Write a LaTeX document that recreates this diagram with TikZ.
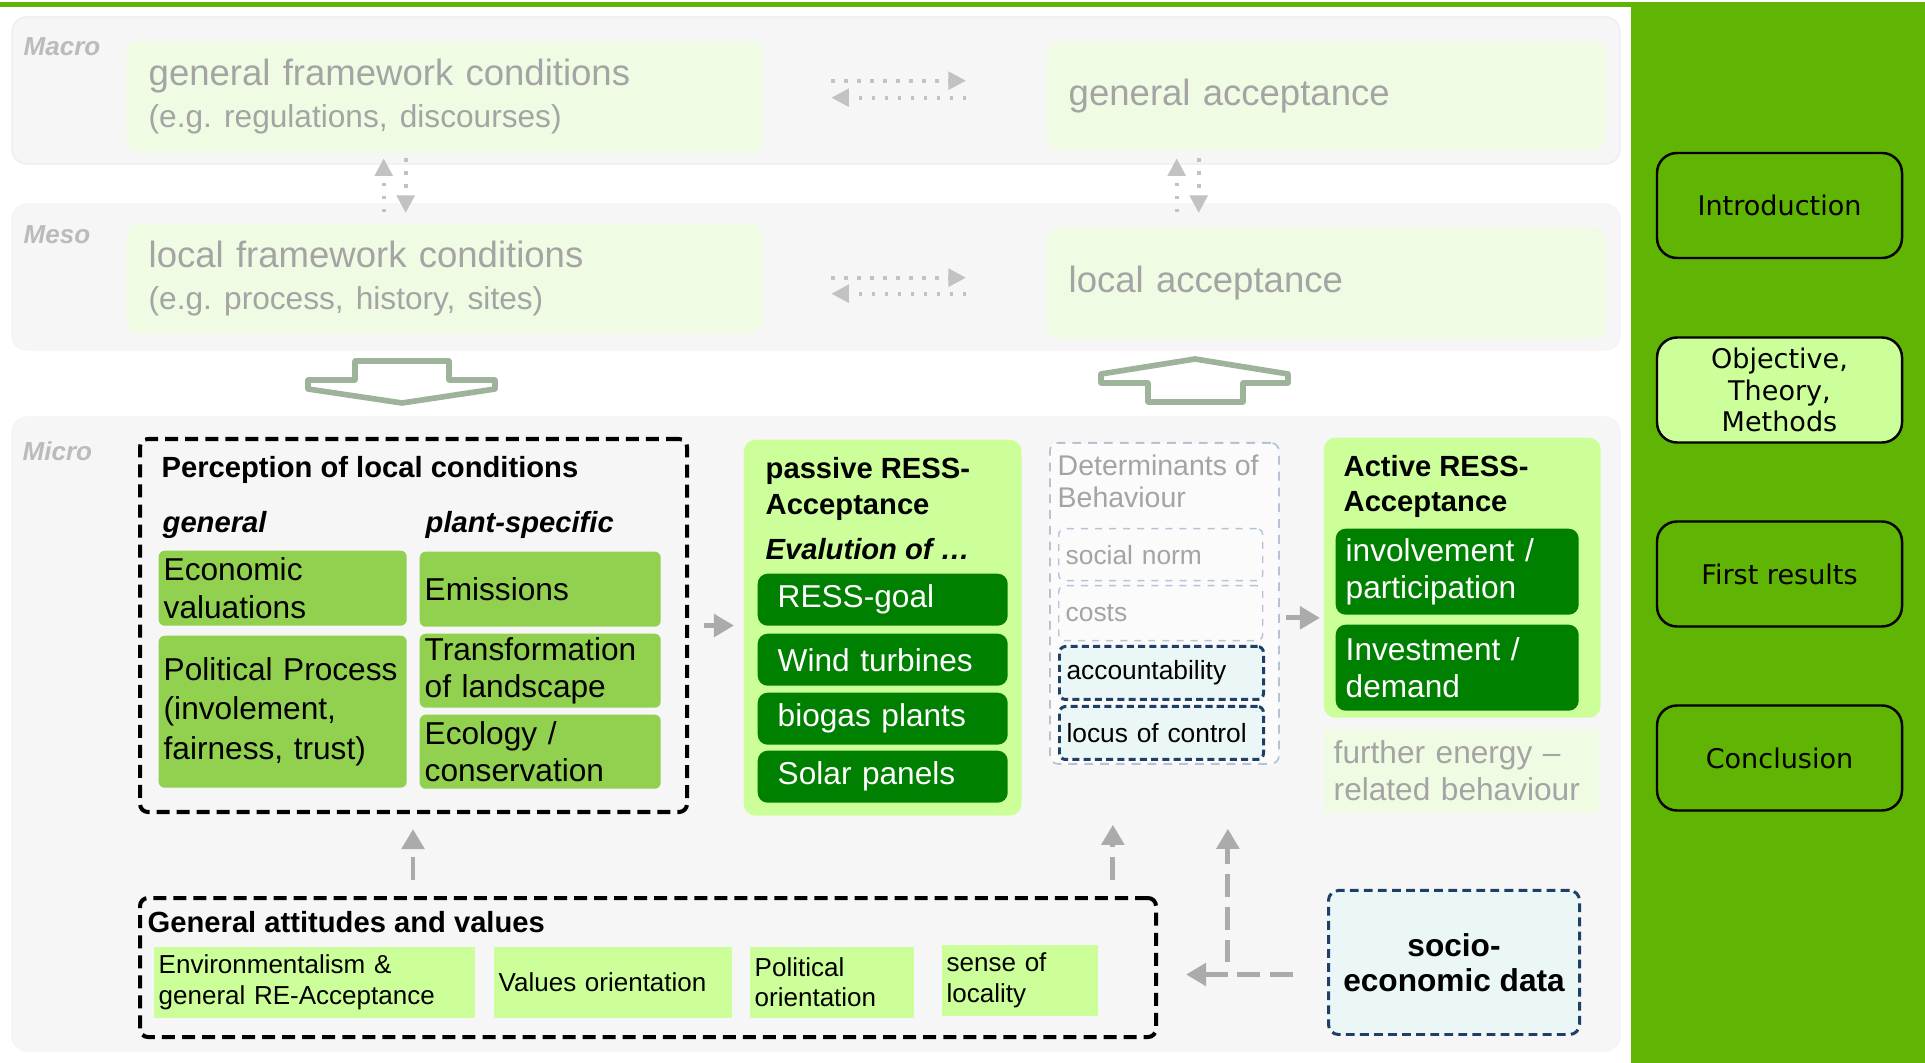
\documentclass[tikz,border=0pt]{standalone}
\usepackage{fontspec}
\setmainfont{Liberation Sans}
\newfontfamily\verdana{DejaVu Sans}
\usepackage{tikz}
\usetikzlibrary{arrows.meta}
\definecolor{navgreen}{HTML}{5FB404}
\definecolor{lightlime}{HTML}{CCFF99}
\definecolor{midgreen}{HTML}{92D050}
\definecolor{darkgreen}{HTML}{008000}
\definecolor{paleblue}{HTML}{EBF6F7}
\definecolor{navyline}{HTML}{1F3F66}
\definecolor{panelgray}{HTML}{F6F6F6}
\definecolor{fadegreen}{HTML}{F0FBE4}
\definecolor{fadetext}{HTML}{A4A4A4}
\definecolor{lvlgray}{HTML}{BBBBBB}
\definecolor{arrowgray}{HTML}{ABABAB}
\definecolor{faintgray}{HTML}{C2C2C2}
\definecolor{detline}{HTML}{B4C4D6}
\definecolor{blkline}{HTML}{9DB39A}
\newcommand{\fsz}[2]{\fontsize{#1}{#2}\selectfont}
\frenchspacing

\begin{document}
\begin{tikzpicture}[
	nav/.style={draw=black, line width=0.7pt, rounded corners=0.2cm, minimum width=2.45cm, minimum height=1.05cm, align=center, inner sep=0pt, font=\verdana\fsz{7.7}{9}},
	lvl/.style={anchor=west, inner sep=0pt, text=lvlgray, font=\bfseries\itshape\fsz{7.4}{8}},
	fade/.style={fill=fadegreen, rounded corners=0.12cm, anchor=north west, inner xsep=0.22cm, inner ysep=0pt, align=left, text=fadetext, font=\fsz{10.4}{12}},
	ttl/.style={anchor=west, inner sep=0pt, align=left, font=\bfseries\fsz{8.3}{10}},
	dbox/.style={draw=black, line width=1.15pt, dash pattern=on 3.7pt off 2pt, rounded corners=0.08cm, anchor=north west},
	mid/.style={fill=midgreen, rounded corners=0.06cm, anchor=north west, inner xsep=0.05cm, inner ysep=0pt, align=left, font=\fsz{9}{10.6}},
	lime/.style={fill=lightlime, rounded corners=0.12cm, anchor=north west},
	dark/.style={fill=darkgreen, text=white, rounded corners=0.1cm, anchor=north west, inner xsep=0.2cm, inner ysep=0pt, text width=2.1cm, minimum height=0.52cm, align=left, font=\fsz{9}{10.6}},
	sml/.style={anchor=north west, minimum width=2.04cm, rounded corners=0.06cm, inner xsep=0.07cm, inner ysep=0pt, text width=1.9cm, align=left, font=\fsz{7.5}{9}},
	lbox/.style={fill=lightlime, anchor=north west, inner xsep=0.05cm, inner ysep=0pt, minimum height=0.71cm, align=left, font=\fsz{7.4}{8.8}},
	farr/.style={draw=arrowgray, line width=1.4pt, dash pattern=on 6.5pt off 2.8pt, -{Triangle[width=6.3pt,length=5.7pt]}},
	darr/.style={draw=faintgray, line width=1.1pt, dash pattern=on 0.9pt off 2.8pt, -{Triangle[width=5pt,length=5pt]}},
	blk/.style={draw=blkline, line width=1.6pt, fill=white, line join=round}
	]
	\useasboundingbox (0,0) rectangle (19.25,-10.63);
	\fill[white] (0,0) rectangle (19.25,-10.63);
	\fill[navgreen] (0,-0.02) rectangle (19.25,-0.07);
	\fill[navgreen] (16.31,-0.07) rectangle (19.25,-10.63);

	\node[nav, fill=navgreen] (intro) at (17.795,-2.055) {Introduction};
	\node[nav, fill=lightlime] (otm) at (17.795,-3.90) {Objective,\\Theory,\\Methods};
	\node[nav, fill=navgreen] (first) at (17.795,-5.74) {First results};
	\node[nav, fill=navgreen] (concl) at (17.795,-7.58) {Conclusion};

	\filldraw[panelgray, draw=black!7, rounded corners=0.15cm] (0.12,-0.17) rectangle (16.20,-1.64);
	\filldraw[panelgray, draw=black!4, rounded corners=0.15cm] (0.12,-2.04) rectangle (16.20,-3.50);
	\filldraw[panelgray, draw=black!4, rounded corners=0.15cm] (0.12,-4.17) rectangle (16.20,-10.51);

	\node[lvl] (macro) at (0.23,-0.47) {Macro};
	\node[lvl] (meso) at (0.23,-2.35) {Meso};
	\node[lvl] (micro) at (0.22,-4.51) {Micro};

	\node[fade, text width=5.92cm, minimum height=1.12cm] (gfc) at (1.26,-0.40) {general framework conditions\\{\fsz{9}{12}(e.g. regulations, discourses)}};
	\node[fade, text width=5.15cm, minimum height=1.10cm] (gacc) at (10.46,-0.40) {general acceptance};
	\node[fade, text width=5.92cm, minimum height=1.10cm] (lfc) at (1.26,-2.23) {local framework conditions\\{\fsz{9}{12}(e.g. process, history, sites)}};
	\node[fade, text width=5.15cm, minimum height=1.11cm] (lacc) at (10.46,-2.27) {local acceptance};

	\draw[darr, shorten <=0.68cm, shorten >=0.80cm] ([yshift=0.16cm]gfc.east) -- ([yshift=0.16cm]gfc.east -| gacc.west);
	\draw[darr, shorten <=0.80cm, shorten >=0.68cm] ([yshift=-0.01cm]gfc.east -| gacc.west) -- ([yshift=-0.01cm]gfc.east);
	\draw[darr, shorten <=0.68cm, shorten >=0.80cm] ([yshift=0.01cm]lfc.east) -- ([yshift=0.01cm]lfc.east -| lacc.west);
	\draw[darr, shorten <=0.80cm, shorten >=0.68cm] ([yshift=-0.15cm]lfc.east -| lacc.west) -- ([yshift=-0.15cm]lfc.east);
	\draw[darr, shorten <=0.11cm, shorten >=0.05cm] ([xshift=-0.61cm]lfc.north) -- ([xshift=-0.61cm]gfc.south);
	\draw[darr, shorten <=0.05cm, shorten >=0.10cm] ([xshift=-0.39cm]gfc.south) -- ([xshift=-0.39cm]lfc.north);
	\draw[darr, shorten <=0.15cm, shorten >=0.07cm] ([xshift=-1.495cm]lacc.north) -- ([xshift=-1.495cm]gacc.south);
	\draw[darr, shorten <=0.07cm, shorten >=0.14cm] ([xshift=-1.275cm]gacc.south) -- ([xshift=-1.275cm]lacc.north);

	\filldraw[blk] (3.55,-3.61) -- (4.49,-3.61) -- (4.49,-3.80) -- (4.95,-3.80) -- (4.95,-3.89) -- (4.02,-4.03) -- (3.08,-3.89) -- (3.08,-3.80) -- (3.55,-3.80) -- cycle;
	\filldraw[blk] (11.48,-4.02) -- (12.43,-4.02) -- (12.43,-3.83) -- (12.88,-3.83) -- (12.88,-3.74) -- (11.95,-3.59) -- (11.01,-3.74) -- (11.01,-3.83) -- (11.48,-3.83) -- cycle;

	\node[dbox, minimum width=5.47cm, minimum height=3.73cm] (perc) at (1.38,-4.37) {};
	\node[ttl] (percT) at (1.61,-4.70) {Perception of local conditions};
	\node[ttl, font=\bfseries\itshape\fsz{8.3}{10}] (gen) at (1.62,-5.25) {general};
	\node[ttl, font=\bfseries\itshape\fsz{8.3}{10}] (plant) at (4.25,-5.25) {plant-specific};
	\node[mid, text width=2.38cm, minimum height=0.75cm] (eco) at (1.58,-5.50) {Economic\\valuations};
	\node[mid, text width=2.31cm, minimum height=0.75cm] (emi) at (4.19,-5.51) {Emissions};
	\node[mid, text width=2.38cm, minimum height=1.52cm, font=\fsz{9}{11.2}] (pol) at (1.58,-6.35) {Political Process\\(involement,\\fairness, trust)};
	\node[mid, text width=2.31cm, minimum height=0.74cm] (tra) at (4.19,-6.33) {Transformation\\of landscape};
	\node[mid, text width=2.31cm, minimum height=0.74cm] (ecol) at (4.19,-7.14) {Ecology /\\conservation};

	\node[lime, minimum width=2.78cm, minimum height=3.76cm] (pas) at (7.43,-4.39) {};
	\node[ttl] (pasT) at (7.65,-4.89) {passive RESS-\\Acceptance};
	\node[ttl, font=\bfseries\itshape\fsz{8.3}{10}] (evl) at (7.65,-5.49) {Evalution of …};
	\node[dark] (goal) at (7.57,-5.73) {RESS-goal};
	\node[dark] (wind) at (7.57,-6.33) {Wind turbines};
	\node[dark] (bio) at (7.57,-6.92) {biogas plants};
	\node[dark] (sol) at (7.57,-7.50) {Solar panels};

	\node[draw=detline, fill=white!60!panelgray, line width=0.5pt, dash pattern=on 2.5pt off 2pt, rounded corners=0.08cm, anchor=north west, minimum width=2.29cm, minimum height=3.21cm] (det) at (10.49,-4.42) {};
	\node[anchor=west, inner sep=0pt, align=left, text=fadetext, font=\fsz{8.1}{9.2}] (detT) at (10.57,-4.81) {Determinants of\\Behaviour};
	\node[sml, draw=detline, dash pattern=on 2pt off 2pt, text=fadetext, minimum height=0.52cm] (norm) at (10.58,-5.28) {social norm};
	\node[sml, draw=detline, dash pattern=on 2pt off 2pt, text=fadetext, minimum height=0.55cm] (costs) at (10.58,-5.85) {costs};
	\node[sml, draw=navyline, fill=paleblue, line width=0.85pt, dash pattern=on 2pt off 1.2pt, minimum height=0.53cm] (acc) at (10.58,-6.45) {accountability};
	\node[sml, draw=navyline, fill=paleblue, line width=0.85pt, dash pattern=on 2pt off 1.2pt, minimum height=0.53cm] (locus) at (10.58,-7.05) {locus of control};

	\node[lime, minimum width=2.77cm, minimum height=2.80cm] (act) at (13.23,-4.37) {};
	\node[ttl] (actT) at (13.43,-4.865) {Active RESS-\\Acceptance};
	\node[dark, inner xsep=0.1cm, text width=2.23cm, minimum height=0.86cm] (inv) at (13.35,-5.28) {involvement /\\participation};
	\node[dark, inner xsep=0.1cm, text width=2.23cm, minimum height=0.86cm] (ivs) at (13.35,-6.24) {Investment /\\demand};
	\node[fill=fadegreen, anchor=north west, inner xsep=0.1cm, inner ysep=0pt, text width=2.55cm, minimum height=0.84cm, align=left, text=fadetext, font=\fsz{9}{10.6}] (further) at (13.23,-7.28) {further energy –\\related behaviour};

	\node[dbox, minimum width=10.16cm, minimum height=1.39cm] (gav) at (1.38,-8.96) {};
	\node[ttl] (gavT) at (1.47,-9.22) {General attitudes and values};
	\node[lbox, text width=3.11cm] (env) at (1.53,-9.46) {Environmentalism \&\\general RE-Acceptance};
	\node[lbox, text width=2.28cm] (val) at (4.93,-9.46) {Values orientation};
	\node[lbox, text width=1.54cm] (polo) at (7.49,-9.46) {Political\\orientation};
	\node[lbox, text width=1.46cm] (sense) at (9.41,-9.44) {sense of\\locality};

	\node[draw=navyline, fill=paleblue, line width=0.85pt, dash pattern=on 2.5pt off 1.5pt, rounded corners=0.1cm, anchor=north west, minimum width=2.51cm, minimum height=1.44cm, align=center, font=\bfseries\fsz{9}{10}] (socio) at (13.27,-8.89) {socio-\\economic data};

	\draw[farr, shorten <=0.15cm, shorten >=0.09cm] (perc.east) -- (perc.east -| pas.west);
	\draw[farr, shorten <=0.06cm, shorten >=0.03cm] ([yshift=-0.145cm]det.east) -- ([yshift=-0.145cm]det.east -| act.west);
	\draw[farr, shorten <=0.16cm, shorten >=0.15cm] ([xshift=-2.35cm]gav.north) -- ([xshift=-2.35cm]gav.north |- perc.south);
	\draw[farr, shorten <=0.16cm, shorten >=0.60cm] ([xshift=-0.515cm]det.south |- gav.north) -- ([xshift=-0.515cm]det.south);
	\draw[farr, shorten <=0.34cm, shorten >=0.28cm] ([yshift=-0.12cm]socio.west) -- ([yshift=-0.12cm]socio.west -| gav.east);
	\draw[farr, shorten >=0.64cm] ([xshift=0.635cm]det.south |- socio.west) -- ([xshift=0.635cm]det.south);
\end{tikzpicture}
\end{document}
